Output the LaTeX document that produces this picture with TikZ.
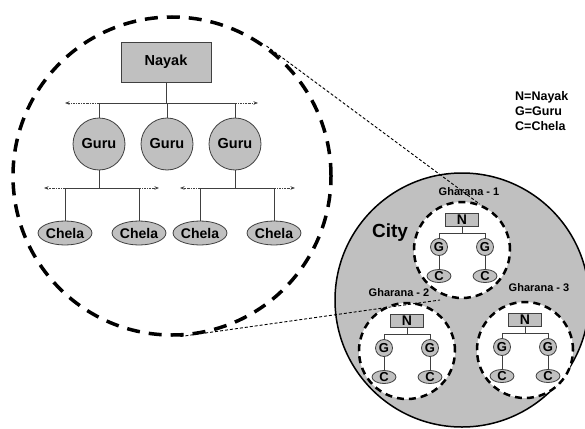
\documentclass[tikz,border=0pt]{standalone}
\usepackage{fontspec}
\setmainfont{Liberation Sans}
\usetikzlibrary{arrows.meta,shapes.geometric,positioning}
\definecolor{CityGray}{HTML}{C0C0C0}
\definecolor{TreeLine}{HTML}{404040}

\begin{document}
\begin{tikzpicture}[x=1pt,y=-1pt,
    treeline/.style={TreeLine,line width=0.8pt},
    spread/.style={TreeLine,line width=0.8pt,
      dash pattern=on 2pt off 1pt on 0.8pt off 1pt,
      -{Stealth[length=4.5pt,width=3.5pt]}},
    nayakbox/.style={rectangle,draw=TreeLine,fill=CityGray,line width=0.8pt,
      minimum width=90pt,minimum height=40pt,inner sep=0pt,
      font=\fontsize{14.5}{16}\selectfont\bfseries},
    gurunode/.style={circle,draw=TreeLine,fill=CityGray,line width=0.8pt,
      minimum size=52pt,inner sep=0pt,font=\fontsize{14.5}{16}\selectfont\bfseries},
    chelanode/.style={ellipse,draw=TreeLine,fill=CityGray,line width=0.8pt,
      minimum width=53pt,minimum height=24pt,inner sep=0pt,
      font=\fontsize{14}{16}\selectfont\bfseries},
    minin/.style={rectangle,draw=TreeLine,fill=CityGray,line width=0.8pt,
      minimum width=33pt,minimum height=13pt,inner sep=0pt,
      font=\fontsize{14}{14}\selectfont\bfseries},
    minig/.style={circle,draw=TreeLine,fill=CityGray,line width=0.8pt,
      minimum size=17pt,inner sep=0pt,font=\fontsize{13}{13}\selectfont\bfseries},
    minic/.style={ellipse,draw=TreeLine,fill=CityGray,line width=0.8pt,
      minimum width=24pt,minimum height=13pt,inner sep=0pt,
      font=\fontsize{13}{13}\selectfont\bfseries},
    gharana/.style={circle,draw=black,fill=white,line width=2.5pt,
      dash pattern=on 7pt off 5pt,minimum size=96pt,inner sep=0pt},
    ghlabel/.style={font=\fontsize{11}{12}\selectfont\bfseries,inner sep=0pt},
    lensline/.style={black,line width=0.9pt,dash pattern=on 3pt off 2pt}]

  \useasboundingbox (0,0) rectangle (585,428);

  % zoomed view of one gharana
  \node[circle,draw=black,line width=3.5pt,dash pattern=on 13pt off 9pt,
    minimum size=318pt,inner sep=0pt] (zoomview) at (172,176) {};

  \node[nayakbox] (nayak) at (166,62) {Nayak};
  \node[gurunode] (guruA) at (99,144) {Guru};
  \node[gurunode] (guruB) at (167,144) {Guru};
  \node[gurunode] (guruC) at (235,144) {Guru};
  \node[chelanode] (chelaA) at (65,233) {Chela};
  \node[chelanode] (chelaB) at (139,233) {Chela};
  \node[chelanode] (chelaC) at (200,233) {Chela};
  \node[chelanode] (chelaD) at (274,233) {Chela};

  \coordinate (barN) at (166,103);
  \coordinate (barA) at (99,188);
  \coordinate (barC) at (235,188);

  \draw[treeline] (nayak) -- (barN);
  \draw[treeline] (guruA |- barN) -- (guruC |- barN);
  \foreach \g in {guruA,guruB,guruC}{
    \draw[treeline] (\g |- barN) -- (\g);
  }
  \draw[spread] (guruA |- barN) -- +(-34,0);
  \draw[spread] (guruC |- barN) -- +(23,0);

  \draw[treeline] (guruA) -- (barA);
  \draw[treeline] (chelaA |- barA) -- (chelaB |- barA);
  \draw[treeline] (chelaA |- barA) -- (chelaA);
  \draw[treeline] (chelaB |- barA) -- (chelaB);
  \draw[spread] (chelaA |- barA) -- +(-21,0);
  \draw[spread] (chelaB |- barA) -- +(20,0);

  \draw[treeline] (guruC) -- (barC);
  \draw[treeline] (chelaC |- barC) -- (chelaD |- barC);
  \draw[treeline] (chelaC |- barC) -- (chelaC);
  \draw[treeline] (chelaD |- barC) -- (chelaD);
  \draw[spread] (chelaC |- barC) -- +(-20,0);
  \draw[spread] (chelaD |- barC) -- +(21,0);

  % the city
  \node[circle,draw=black,fill=CityGray,line width=1.5pt,
    minimum size=254pt,inner sep=0pt] (city) at (462,300) {};
  \node[font=\fontsize{19}{20}\selectfont\bfseries,inner sep=0pt]
    (citylabel) at (390,233) {City};

  \foreach \gx/\gy/\gn in {462/250/1,407/351/2,525/350/3}{
    \node[gharana] (gh\gn) at (\gx,\gy) {};
    \node[minin] (n\gn) at (\gx,\gy-30) {N};
    \node[minig] (gl\gn) at (\gx-23,\gy-3) {G};
    \node[minig] (gr\gn) at (\gx+23,\gy-3) {G};
    \node[minic] (cl\gn) at (\gx-23,\gy+26) {C};
    \node[minic] (cr\gn) at (\gx+23,\gy+26) {C};
    \coordinate (bar\gn) at (\gx,\gy-17);
    \draw[treeline] (n\gn) -- (bar\gn);
    \draw[treeline] (gl\gn |- bar\gn) -- (gr\gn |- bar\gn);
    \draw[treeline] (gl\gn |- bar\gn) -- (gl\gn);
    \draw[treeline] (gr\gn |- bar\gn) -- (gr\gn);
    \draw[treeline] (gl\gn) -- (cl\gn);
    \draw[treeline] (gr\gn) -- (cr\gn);
  }

  \node[ghlabel] (lab1) at (469,192) {Gharana - 1};
  \node[ghlabel] (lab2) at (399,293) {Gharana - 2};
  \node[ghlabel] (lab3) at (539,288) {Gharana - 3};

  % lens lines
  \coordinate (lensfoot) at (440,300);
  \draw[lensline] (zoomview.54.8) -- (gh1.69);
  \draw[lensline] (zoomview.-87) -- (lensfoot);

  % key
  \node[anchor=north west,align=left,inner sep=0pt,
    font=\fontsize{12.5}{15}\selectfont\bfseries] (key) at (515,91)
    {N=Nayak\\G=Guru\\C=Chela};
\end{tikzpicture}
\end{document}
